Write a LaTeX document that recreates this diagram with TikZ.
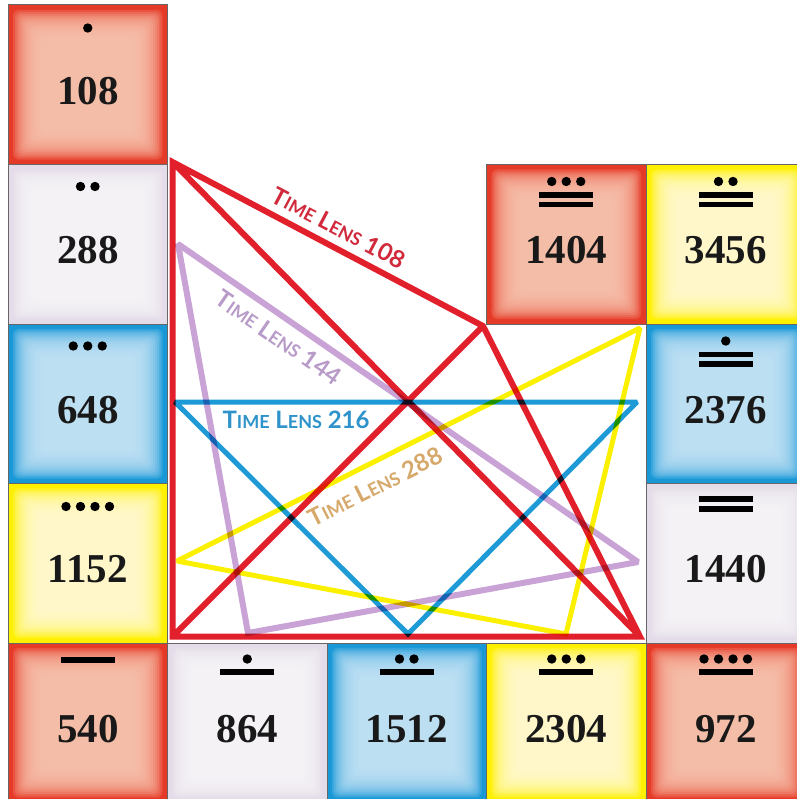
\documentclass[tikz,border=0pt]{standalone}
\usepackage{fontspec}
\setmainfont{Liberation Serif}
\newfontfamily\lensfont{Lato}
\usetikzlibrary{calc}
\definecolor{redO}{HTML}{E63A28}
\definecolor{redI}{HTML}{F9C6B0}
\definecolor{yelO}{HTML}{FFF000}
\definecolor{yelI}{HTML}{FFFCD6}
\definecolor{bluO}{HTML}{1898D6}
\definecolor{bluI}{HTML}{C6E5F7}
\definecolor{whiO}{HTML}{E4DCE8}
\definecolor{whiI}{HTML}{F9F7FA}
\definecolor{lnRed}{HTML}{E2202C}
\definecolor{lnPur}{HTML}{C9A2D6}
\definecolor{lnBlu}{HTML}{1E9AD6}
\definecolor{lnYel}{HTML}{FAF000}
\definecolor{txRed}{HTML}{D02A3C}
\definecolor{txPur}{HTML}{B89BC9}
\definecolor{txBlu}{HTML}{2E93CB}
\definecolor{txTan}{HTML}{D6A86A}
\newcommand\vignette[1]{%
  \foreach \i in {1,...,16}{%
    \fill[#1,opacity=0.18,rounded corners=6pt]
      ([shift={(3pt+\i*1.9pt,3pt+\i*1.9pt)}]path picture bounding box.south west)
      rectangle ([shift={(-3pt-\i*1.9pt,-3pt-\i*1.9pt)}]path picture bounding box.north east);}}
\newcommand\mayadots[3]{%
  \foreach \k in {1,...,#2}{%
    \fill ([xshift={(\k-(#2+1)/2)*14.5pt},yshift={-#3pt}]#1.north) circle (4.7pt);}}
\newcommand\mayabar[2]{%
  \fill ([xshift=-27pt,yshift={-#2pt-2.6pt}]#1.north) rectangle ([xshift=27pt,yshift={-#2pt+2.6pt}]#1.north);}
\newcommand\lenstext[1]{\fontsize{24}{24}\selectfont T{\fontsize{18}{18}\selectfont IME} L{\fontsize{18}{18}\selectfont ENS} #1}
\begin{document}
\begin{tikzpicture}[x=1pt,y=-1pt,
  cell/.style={minimum size=159.5pt,inner sep=0pt,outer sep=0pt,draw=black!60,line width=1pt},
  cellR/.style={cell,fill=redO,path picture={\vignette{redI}}},
  cellY/.style={cell,fill=yelO,path picture={\vignette{yelI}}},
  cellB/.style={cell,fill=bluO,path picture={\vignette{bluI}}},
  cellW/.style={cell,fill=whiO,path picture={\vignette{whiI}}},
  num/.style={inner sep=0pt,font=\fontsize{41}{41}\selectfont\bfseries,text=black!90},
  lens/.style={inner sep=0pt,font=\lensfont\bfseries},
  ln/.style={line width=6pt,line join=miter,miter limit=2,line cap=butt}]
\useasboundingbox (0,0) rectangle (796,799);
\fill[white] (0,0) rectangle (796,799);

% cells
\node[cellR] (c108)  at (87.75,84.75)   {};
\node[cellW] (c288)  at (87.75,244.25)  {};
\node[cellB] (c648)  at (87.75,403.75)  {};
\node[cellY] (c1152) at (87.75,563.25)  {};
\node[cellR] (c540)  at (87.75,722.75)  {};
\node[cellW] (c864)  at (247.25,722.75) {};
\node[cellB] (c1512) at (406.75,722.75) {};
\node[cellY] (c2304) at (566.25,722.75) {};
\node[cellR] (c972)  at (725.75,722.75) {};
\node[cellW] (c1440) at (725.75,563.25) {};
\node[cellB] (c2376) at (725.75,403.75) {};
\node[cellY] (c3456) at (725.75,244.25) {};
\node[cellR] (c1404) at (566.25,244.25) {};

% numbers
\foreach \n in {108,288,648,1152,540,864,1512,2304,972,1440,2376,3456,1404}{
  \node[num] (n\n) at ([yshift=-86pt]c\n.north) {\n};}

% glyphs
\mayadots{c108}{1}{23}
\mayadots{c288}{2}{22}
\mayadots{c648}{3}{22}
\mayadots{c1152}{4}{23}
\mayabar{c540}{17}
\mayadots{c864}{1}{16}\mayabar{c864}{29}
\mayadots{c1512}{2}{16}\mayabar{c1512}{29}
\mayadots{c2304}{3}{16}\mayabar{c2304}{29}
\mayadots{c972}{4}{16}\mayabar{c972}{29}
\mayabar{c1440}{15.5}\mayabar{c1440}{25.5}
\mayadots{c2376}{1}{17}\mayabar{c2376}{30.5}\mayabar{c2376}{40}
\mayadots{c3456}{2}{17}\mayabar{c3456}{30.5}\mayabar{c3456}{40}
\mayadots{c1404}{3}{17}\mayabar{c1404}{30.5}\mayabar{c1404}{40}

% lens vertices
\coordinate (A) at (172.5,162);
\coordinate (B) at (483,326);
\coordinate (C) at (640,636.5);
\coordinate (D) at (172.5,636.5);
\coordinate (P1) at (178,244);
\coordinate (P2) at (638,562);
\coordinate (P3) at (248,633);
\coordinate (BL) at (175,402);
\coordinate (BR) at (637,402);
\coordinate (BB) at (408,634);
\coordinate (Y1) at (177,561);
\coordinate (Y2) at (640,328);
\coordinate (Y3) at (566,634);

\begin{scope}[blend group=multiply]
  \draw[ln,lnPur] (P1) -- (P2) -- (P3) -- cycle;
  \draw[ln,lnBlu,line width=5pt] (BL) -- (BR) -- (BB) -- cycle;
  \draw[ln,lnYel,line width=5pt] (Y1) -- (Y2) -- (Y3) -- cycle;
  \draw[ln,lnRed] (A) -- (B) -- (C) -- (D) -- cycle (A) -- (C) (B) -- (D);
\end{scope}

% labels
\path (A) -- (B) node[lens,text=txRed,sloped,pos=0.506,above=10.5pt] (l108) {\lenstext{108}};
\path (P1) -- (P2) node[lens,text=txPur,sloped,pos=0.243,below=11pt] (l144) {\lenstext{144}};
\path (BL) -- (BR) node[lens,text=txBlu,pos=0.262,below=9pt] (l216) {\lenstext{216}};
\path (Y1) -- (Y2) node[lens,text=txTan,sloped,pos=0.406,below=13.5pt] (l288) {\lenstext{288}};
\end{tikzpicture}
\end{document}
